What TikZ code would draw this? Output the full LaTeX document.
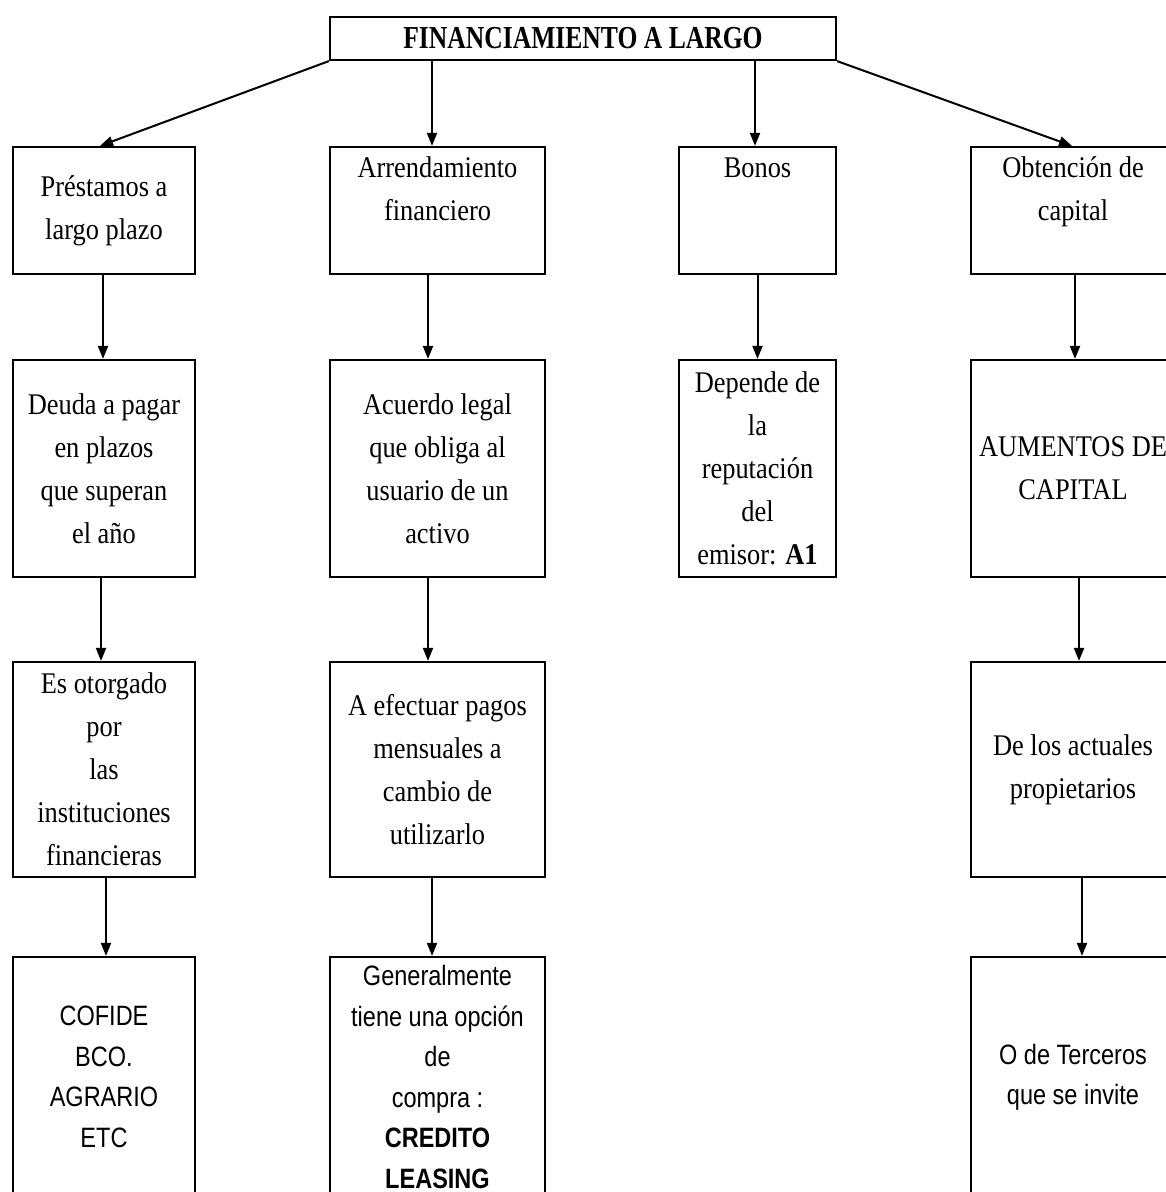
\documentclass[tikz,border=0pt]{standalone}
\usepackage{fontspec}
\usetikzlibrary{arrows.meta}
\newfontfamily\srf[FakeStretch=0.88]{Liberation Serif}
\newfontfamily\snf[FakeStretch=0.84]{Liberation Sans}
\newfontfamily\ttl[FakeStretch=0.8]{Liberation Serif}
\tikzset{
  box/.style={draw, line width=2.2pt, rectangle, inner sep=0pt, align=center,
    font=\srf\fontsize{30}{43}\selectfont},
  sbox/.style={box, font=\snf\fontsize{28}{40.5}\selectfont},
  arr/.style={line width=2pt, -{Triangle[width=10pt,length=13pt]}},
}
\begin{document}
\begin{tikzpicture}[x=1pt,y=-1pt]
\useasboundingbox (0,0) rectangle (1166,1192);
\fill[white] (0,0) rectangle (1166,1192);
\begin{scope}
\clip (0,0) rectangle (1166,1192);
% top
\node[box, minimum width=506pt, minimum height=43pt, font=\ttl\bfseries\fontsize{32}{40}\selectfont] (top) at (583,38.5) {FINANCIAMIENTO A LARGO};
% row 1
\node[box, minimum width=182pt, minimum height=127pt] (a1) at (104,210.5) {Préstamos a\\largo plazo};
\node[box, minimum width=215pt, minimum height=127pt] (b1) at (437.5,210.5) {Arrendamiento\\financiero\\\mbox{}};
\node[box, minimum width=157pt, minimum height=127pt] (c1) at (757.5,210.5) {Bonos\\\mbox{}\\\mbox{}};
\node[box, minimum width=204pt, minimum height=127pt] (d1) at (1073,210.5) {Obtención de\\capital\\\mbox{}};
% row 2
\node[box, minimum width=182pt, minimum height=217pt] (a2) at (104,468.5) {Deuda a pagar\\en plazos\\que superan\\el año};
\node[box, minimum width=215pt, minimum height=217pt] (b2) at (437.5,468.5) {Acuerdo legal\\que obliga al\\usuario de un\\activo};
\node[box, minimum width=157pt, minimum height=217pt] (c2) at (757.5,468.5) {Depende de\\la\\reputación\\del\\emisor: \textbf{A1}};
\node[box, minimum width=204pt, minimum height=217pt] (d2) at (1073,468.5) {AUMENTOS DE\\CAPITAL};
% row 3
\node[box, minimum width=182pt, minimum height=215pt] (a3) at (104,769.5) {Es otorgado\\por\\las\\instituciones\\financieras};
\node[box, minimum width=215pt, minimum height=215pt] (b3) at (437.5,769.5) {A efectuar pagos\\mensuales a\\cambio de\\utilizarlo};
\node[box, minimum width=204pt, minimum height=215pt] (d3) at (1073,769.5) {De los actuales\\propietarios};
% row 4
\node[sbox, minimum width=182pt, minimum height=240pt] (a4) at (104,1077) {COFIDE\\BCO.\\AGRARIO\\ETC};
\node[sbox, minimum width=215pt, minimum height=240pt] (b4) at (437.5,1077) {Generalmente\\tiene una opción\\de\\compra :\\\textbf{CREDITO}\\\textbf{LEASING}};
\node[sbox, minimum width=204pt, minimum height=240pt] (d4) at (1073,1077) {O de Terceros\\que se invite};
% connectors from top
\draw[arr] (top.south west) -- ([xshift=-4pt]a1.north);
\draw[arr] ([xshift=-5.5pt]b1.north |- top.south) -- ([xshift=-5.5pt]b1.north);
\draw[arr] ([xshift=-2.5pt]c1.north |- top.south) -- ([xshift=-2.5pt]c1.north);
\draw[arr] (top.south east) -- ([xshift=-1pt]d1.north);
% column 1
\draw[arr] ([xshift=-1pt]a1.south) -- ([xshift=-1pt]a2.north);
\draw[arr] ([xshift=-3pt]a2.south) -- ([xshift=-3pt]a3.north);
\draw[arr] ([xshift=2pt]a3.south) -- ([xshift=2pt]a4.north);
% column 2
\draw[arr] ([xshift=-9.5pt]b1.south) -- ([xshift=-9.5pt]b2.north);
\draw[arr] ([xshift=-9.5pt]b2.south) -- ([xshift=-9.5pt]b3.north);
\draw[arr] ([xshift=-5.5pt]b3.south) -- ([xshift=-5.5pt]b4.north);
% column 3
\draw[arr] (c1.south) -- (c2.north);
% column 4
\draw[arr] ([xshift=2pt]d1.south) -- ([xshift=2pt]d2.north);
\draw[arr] ([xshift=6pt]d2.south) -- ([xshift=6pt]d3.north);
\draw[arr] ([xshift=9pt]d3.south) -- ([xshift=9pt]d4.north);
\end{scope}
\end{tikzpicture}
\end{document}
